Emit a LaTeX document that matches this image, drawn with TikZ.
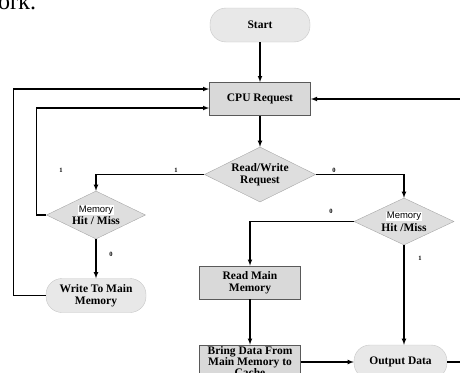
\documentclass[tikz,border=0pt]{standalone}
\usepackage{fontspec}
\setmainfont{Liberation Serif}
\setsansfont{Liberation Sans}
\usetikzlibrary{shapes.geometric}
\definecolor{termgray}{rgb}{0.91,0.91,0.91}
\definecolor{boxgray}{rgb}{0.85,0.85,0.85}
\definecolor{decgray}{rgb}{0.87,0.87,0.87}
\tikzset{
    every node/.style={font=\fontsize{11.5}{12.5}\selectfont\bfseries, align=center},
    term/.style={rectangle, rounded corners=16pt, fill=termgray, draw=gray!45, minimum width=100pt, minimum height=34pt, inner sep=1pt},
    proc/.style={rectangle, fill=boxgray, draw=black!65, thick, minimum width=101pt, minimum height=33pt, inner sep=1pt},
    dec/.style={diamond, aspect=2, fill=decgray, draw=gray!70, inner sep=0pt},
    flow/.style={-latex, line width=1.1pt},
    bit/.style={font=\fontsize{6.5}{6.5}\selectfont\bfseries, inner sep=0pt},
}
\newcommand{\memtag}{{\setlength{\fboxsep}{0.6pt}\colorbox{white}{\sffamily\mdseries\fontsize{9.5}{10}\selectfont Memory}}}

\begin{document}
\begin{tikzpicture}[x=1pt,y=-1pt]
			\useasboundingbox (0,0) rectangle (460,372);
			\node[font=\fontsize{24}{24}\selectfont, anchor=base west, inner sep=0pt] (page) at (-2,9.5) {ork.};
			\node[term] (start) at (260,25) {Start};
			\node[proc] (cpu) at (260,99) {CPU Request};
			\node[dec, minimum width=111pt, minimum height=55pt] (rw) at (260,174.5) {Read/Write\\Request};
			\node[dec, minimum width=99pt, minimum height=48pt] (hitl) at (96,215) {\memtag\\Hit / Miss};
			\node[dec, minimum width=100pt, minimum height=47pt] (hitr) at (404,221.5) {\memtag\\Hit /Miss};
			\node[term] (write) at (96,295.5) {Write To Main\\Memory};
			\node[proc] (read) at (250,282.5) {Read Main\\Memory};
			\node[proc, minimum height=34pt, font=\fontsize{11.5}{11}\selectfont\bfseries] (bring) at (250,362) {Bring Data From\\Main Memory to\\Cache};
			\node[term, minimum width=93pt] (out) at (400.5,362) {Output Data};
			\draw[flow] (start) -- (cpu);
			\draw[flow] (cpu) -- (rw);
			\draw[flow] (rw.west) -| (hitl.north);
			\draw[flow] (rw.east) -| (hitr.north);
			\draw[flow] (hitl) -- (write);
			\draw[flow] (hitl.west) -- ++(-10,0) |- ([yshift=-9pt]cpu.west);
			\draw[flow] (write.west) -- ++(-32,0) |- ([yshift=10pt]cpu.west);
			\draw[flow] (hitr.west) -| (read.north);
			\draw[flow] (read) -- (bring);
			\draw[flow] (hitr) -- (hitr |- out.north);
			\draw[flow] (bring.east) -- (out.west);
			\draw[flow] (out.east) -- ++(20,0) |- (cpu.east);
			\node[bit] (b1) at (61,170) {1};
			\node[bit] (b2) at (176,170) {1};
			\node[bit] (b3) at (334,170) {0};
			\node[bit] (b4) at (111,254) {0};
			\node[bit] (b5) at (331,211) {0};
			\node[bit] (b6) at (420,258) {1};
		\end{tikzpicture}
\end{document}
